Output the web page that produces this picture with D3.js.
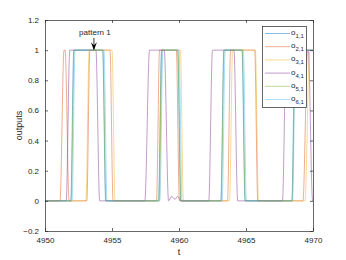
<!DOCTYPE html>
<html>
<head>
<meta charset="utf-8">
<script src="https://cdn.jsdelivr.net/npm/d3@7"></script>
<style>
  body { margin: 0; background: #fff; }
  text { font-family: "Liberation Sans", Arial, sans-serif; fill: #262626; }
</style>
</head>
<body>
<script>
// breakpoints [t, output], one array per unit
var o11 = [[4950,0],[4951.92,0],[4952.15,1],[4954.3,1],[4954.53,0],[4958.47,0],[4958.7,1],[4959.9,1],[4960.13,0],[4963.12,0],[4963.35,1],[4964.7,1],[4964.93,0],[4968.42,0],[4968.65,1],[4970,1]];
var o21 = [[4950,0],[4951.12,0],[4951.42,1],[4951.5,1],[4951.8,0],[4953.12,0],[4953.35,1],[4954.85,1],[4955.08,0],[4958.32,0],[4958.55,1],[4959.8,1],[4960.03,0],[4963.62,0],[4963.85,1],[4965.65,1],[4965.88,0],[4969.25,0],[4969.6,1],[4970,1]];
var o31 = [[4950,0],[4953.05,0],[4953.3,1],[4955.0,1],[4955.23,0],[4958.52,0],[4958.75,1],[4960.1,1],[4960.33,0],[4963.77,0],[4964.0,1],[4965.7,1],[4965.93,0],[4969.4,0],[4969.75,1],[4970,1]];
var o41 = [[4950,0],[4951.58,0],[4951.85,1],[4953.8,1],[4954.08,0],[4957.45,0],[4957.8,1],[4958.9,1],[4959.22,0],[4959.45,0.03],[4959.7,0.01],[4959.9,0.03],[4960.15,0],[4962.22,0],[4962.5,1],[4964.1,1],[4964.38,0],[4967.72,0],[4968.0,1],[4969.65,1],[4969.97,0],[4970,0]];
var o51 = [[4950,0],[4951.95,0],[4952.18,1],[4954.32,1],[4954.55,0],[4958.49,0],[4958.72,1],[4959.92,1],[4960.15,0],[4963.14,0],[4963.37,1],[4964.72,1],[4964.95,0],[4968.44,0],[4968.67,1],[4970,1]];
var o61 = [[4950,0],[4952.02,0],[4952.25,1],[4954.4,1],[4954.63,0],[4958.57,0],[4958.8,1],[4960.0,1],[4960.23,0],[4963.22,0],[4963.45,1],[4964.8,1],[4965.03,0],[4968.47,0],[4968.7,1],[4970,1]];

var series = [o11, o21, o31, o41, o51, o61];
var subs = ["1,1", "2,1", "3,1", "4,1", "5,1", "6,1"];
var xTicks = [4950, 4955, 4960, 4965, 4970];
var yTicks = [-0.2, 0, 0.2, 0.4, 0.6, 0.8, 1, 1.2];
var patternT = 4953.65;

var colors = ["#0072BD", "#D95319", "#EDB120", "#7E2F8E", "#77AC30", "#4DBEEE"];

var width = 346, height = 260;
var pLeft = 45, pRight = 313, pTop = 20, pBottom = 231;

var svg = d3.select("body").append("svg")
  .attr("width", width)
  .attr("height", height);

var x = d3.scaleLinear().domain([4950, 4970]).range([pLeft, pRight]);
var y = d3.scaleLinear().domain([-0.2, 1.2]).range([pBottom, pTop]);

// lines
var line = d3.line()
  .x(function(d) { return x(d[0]); })
  .y(function(d) { return y(d[1]); })
  .curve(d3.curveMonotoneX);

svg.append("g")
  .selectAll("path")
  .data(series)
  .enter().append("path")
    .attr("d", line)
    .attr("fill", "none")
    .attr("stroke", function(d, i) { return colors[i]; })
    .attr("stroke-opacity", 0.6)
    .attr("stroke-width", 0.8);

// axes, ticks pointing inward
var fmt = function(d) { return d3.format("")(+d.toFixed(1)); };
var axisColor = "#262626";

var gx = svg.append("g").attr("transform", "translate(0," + pBottom + ")")
  .call(d3.axisBottom(x).tickValues(xTicks).tickSize(-3).tickSizeOuter(0).tickPadding(6).tickFormat(d3.format("d")));
var gxt = svg.append("g").attr("transform", "translate(0," + pTop + ")")
  .call(d3.axisTop(x).tickValues(xTicks).tickSize(-3).tickSizeOuter(0).tickFormat(""));
var gy = svg.append("g").attr("transform", "translate(" + pLeft + ",0)")
  .call(d3.axisLeft(y).tickValues(yTicks).tickSize(-3).tickSizeOuter(0).tickPadding(6).tickFormat(fmt));
var gyr = svg.append("g").attr("transform", "translate(" + pRight + ",0)")
  .call(d3.axisRight(y).tickValues(yTicks).tickSize(-3).tickSizeOuter(0).tickFormat(""));

[gx, gxt, gy, gyr].forEach(function(g) {
  g.select(".domain").attr("stroke", axisColor).attr("stroke-width", 0.7);
  g.selectAll(".tick line").attr("stroke", axisColor).attr("stroke-width", 0.7);
  g.selectAll(".tick text").attr("font-size", 8).attr("fill", axisColor)
    .attr("font-family", "Liberation Sans, Arial, sans-serif");
});

// axis labels
svg.append("text")
  .attr("x", x(4960)).attr("y", 255)
  .attr("text-anchor", "middle")
  .attr("font-size", 9)
  .text("t");

svg.append("text")
  .attr("transform", "translate(22," + y(0.5) + ") rotate(-90)")
  .attr("text-anchor", "middle")
  .attr("font-size", 9)
  .text("outputs");

// annotation
svg.append("text")
  .attr("x", x(patternT) + 1).attr("y", 35)
  .attr("text-anchor", "middle")
  .attr("font-size", 8)
  .attr("fill", "#000")
  .text("pattern 1");

svg.append("line")
  .attr("x1", x(patternT)).attr("x2", x(patternT))
  .attr("y1", 38).attr("y2", y(1) - 1)
  .attr("stroke", "#000").attr("stroke-width", 0.8);

svg.append("path")
  .attr("d", "M" + (x(patternT) - 3) + "," + (y(1) - 8) +
             " L" + x(patternT) + "," + y(1) +
             " L" + (x(patternT) + 3) + "," + (y(1) - 8) +
             " L" + x(patternT) + "," + (y(1) - 5) + " Z")
  .attr("fill", "#000");

// legend
var lg = svg.append("g");
lg.append("rect")
  .attr("x", 262.5).attr("y", 26.5)
  .attr("width", 44).attr("height", 81)
  .attr("fill", "#fff")
  .attr("stroke", axisColor).attr("stroke-width", 0.7);

var items = lg.selectAll("g.item")
  .data(subs)
  .enter().append("g")
    .attr("class", "item")
    .attr("transform", function(d, i) { return "translate(0," + (33.5 + i * 13.2) + ")"; });

items.append("line")
  .attr("x1", 265).attr("x2", 290)
  .attr("stroke", function(d, i) { return colors[i]; })
  .attr("stroke-opacity", 0.6)
  .attr("stroke-width", 0.8);

var lt = items.append("text")
  .attr("x", 291).attr("y", 1.5)
  .attr("font-size", 8);
lt.append("tspan").text("o");
lt.append("tspan")
  .attr("font-size", 6)
  .attr("dy", 3)
  .text(function(d) { return d; });
</script>
</body>
</html>
